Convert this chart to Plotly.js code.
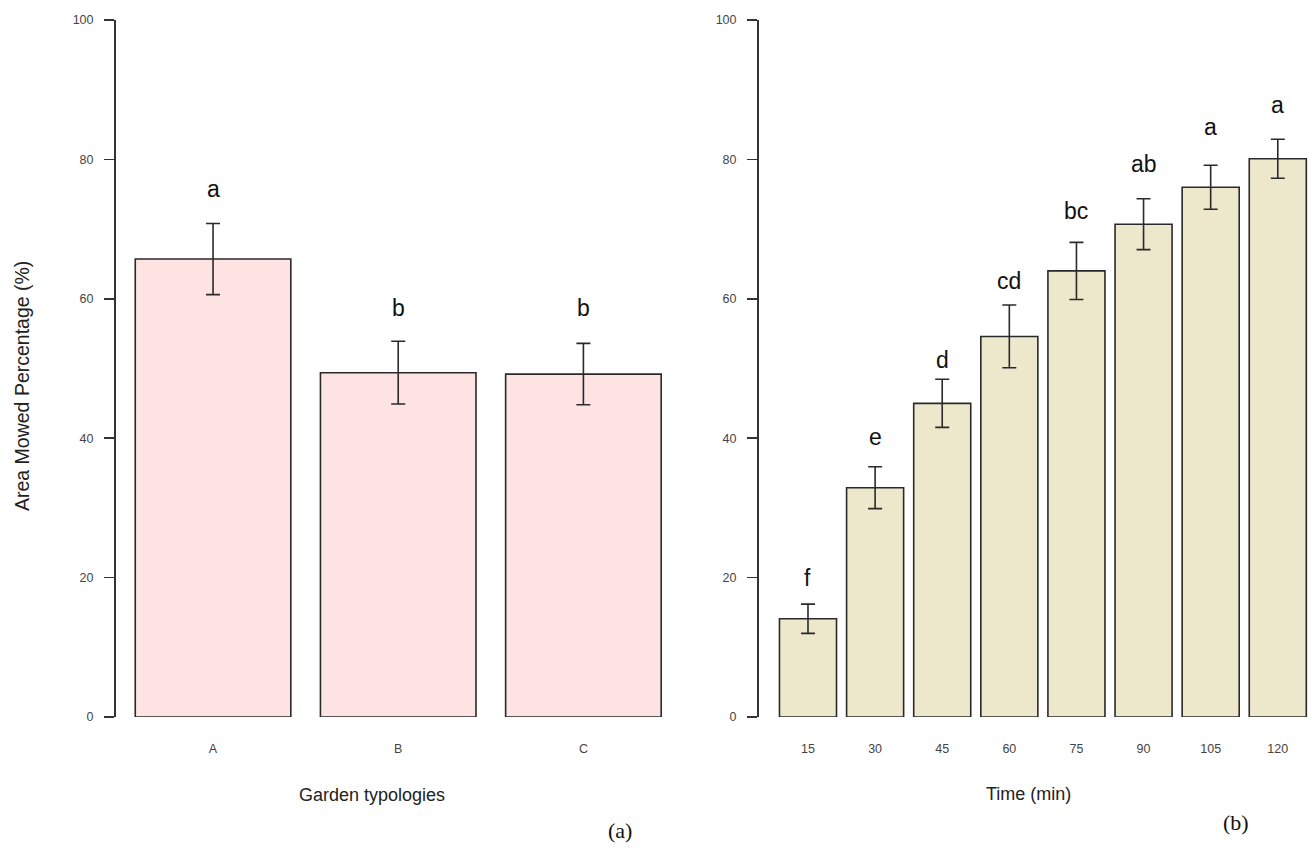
<!DOCTYPE html>
<html>
<head>
<meta charset="utf-8">
<script src="https://cdn.plot.ly/plotly-3.0.1.min.js"></script>
<style>html,body{margin:0;padding:0;background:#fff;}#chart{width:1312px;height:854px;}</style>
</head>
<body>
<div id="chart"></div>
<script>
// ---- data ----
const gardenCats = ['A', 'B', 'C'];
const gardenMeans = [65.7, 49.4, 49.2];
const gardenSE = [5.1, 4.5, 4.4];
const gardenLetters = ['a', 'b', 'b'];
const gardenLetterY = [74.4, 57.4, 57.4];

const timeCats = ['15', '30', '45', '60', '75', '90', '105', '120'];
const timeMeans = [14.1, 32.9, 45.0, 54.6, 64.0, 70.7, 76.0, 80.1];
const timeSE = [2.1, 3.0, 3.45, 4.5, 4.1, 3.65, 3.15, 2.8];
const timeLetters = ['f', 'e', 'd', 'cd', 'bc', 'ab', 'a', 'a'];
const timeLetterY = [18.7, 38.9, 50.0, 61.3, 71.3, 78.1, 83.3, 86.5];

const yTicks = [0, 20, 40, 60, 80, 100];

// ---- figure ----
const W = 1312, H = 854;
const FONT = 'Liberation Sans, Arial, Helvetica, sans-serif';
const px = x => x / W;
const marginT = 20, marginB = 137;
const plotH = H - marginT - marginB;
const py = y => (H - marginB - y) / plotH;

const traces = [
  {
    type: 'bar', x: gardenCats, y: gardenMeans, xaxis: 'x', yaxis: 'y',
    width: 0.84,
    marker: {color: '#FDE3E1', line: {color: '#2a2a2a', width: 1.6}},
    error_y: {type: 'data', array: gardenSE, visible: true, color: '#2a2a2a', thickness: 1.6, width: 7},
    hoverinfo: 'x+y'
  },
  {
    type: 'bar', x: timeCats, y: timeMeans, xaxis: 'x2', yaxis: 'y2',
    width: 0.85,
    marker: {color: '#EDE7CC', line: {color: '#2a2a2a', width: 1.6}},
    error_y: {type: 'data', array: timeSE, visible: true, color: '#2a2a2a', thickness: 1.6, width: 7},
    hoverinfo: 'x+y'
  }
];

const yAxisBase = {
  range: [0, 100], tickvals: yTicks, showgrid: false, zeroline: false,
  showline: true, linecolor: '#333', linewidth: 2,
  ticks: 'outside', ticklen: 10, tickwidth: 1.6, tickcolor: '#333',
  ticklabelstandoff: 8,
  tickfont: {family: FONT, size: 12.5, color: '#444'},
  fixedrange: true
};
const xAxisBase = {
  type: 'category', showgrid: false, zeroline: false, showline: false,
  ticks: '', ticklabelstandoff: 22,
  tickfont: {family: FONT, size: 12.5, color: '#444'},
  fixedrange: true
};

const annotations = [];
// letters: category axes take the category index as annotation position
gardenCats.forEach((c, i) => annotations.push({
  xref: 'x', yref: 'y', x: i, y: gardenLetterY[i], text: gardenLetters[i],
  showarrow: false, yanchor: 'bottom', yshift: -6,
  font: {family: FONT, size: 23, color: '#111'}
}));
timeCats.forEach((c, i) => annotations.push({
  xref: 'x2', yref: 'y2', x: i, y: timeLetterY[i], text: timeLetters[i],
  showarrow: false, yanchor: 'bottom', yshift: -6,
  font: {family: FONT, size: 23, color: '#111'}
}));
// axis titles
annotations.push({
  xref: 'paper', yref: 'paper', x: px(22), y: py(386), text: 'Area Mowed Percentage (%)',
  textangle: -90, showarrow: false, xanchor: 'center', yanchor: 'middle',
  font: {family: FONT, size: 19.5, color: '#222'}
});
annotations.push({
  xref: 'paper', yref: 'paper', x: px(372), y: py(795), text: 'Garden typologies',
  showarrow: false, xanchor: 'center', yanchor: 'middle',
  font: {family: FONT, size: 18, color: '#222'}
});
annotations.push({
  xref: 'paper', yref: 'paper', x: px(1028), y: py(794), text: 'Time (min)',
  showarrow: false, xanchor: 'center', yanchor: 'middle',
  font: {family: FONT, size: 18, color: '#222'}
});
annotations.push({
  xref: 'paper', yref: 'paper', x: px(620), y: py(830), text: '(a)',
  showarrow: false, xanchor: 'center', yanchor: 'middle',
  font: {family: 'Liberation Serif, DejaVu Serif, serif', size: 22, color: '#111'}
});
annotations.push({
  xref: 'paper', yref: 'paper', x: px(1236), y: py(822), text: '(b)',
  showarrow: false, xanchor: 'center', yanchor: 'middle',
  font: {family: 'Liberation Serif, DejaVu Serif, serif', size: 22, color: '#111'}
});

const layout = {
  width: W, height: H,
  margin: {l: 0, r: 0, t: marginT, b: marginB},
  paper_bgcolor: '#fff', plot_bgcolor: '#fff',
  showlegend: false,
  bargap: 0,
  xaxis: Object.assign({}, xAxisBase, {domain: [px(116), px(676)], range: [-0.524, 2.5], anchor: 'y'}),
  yaxis: Object.assign({}, yAxisBase, {anchor: 'x'}),
  xaxis2: Object.assign({}, xAxisBase, {domain: [px(759), px(1310)], range: [-0.73, 7.48], anchor: 'y2'}),
  yaxis2: Object.assign({}, yAxisBase, {anchor: 'x2'}),
  annotations: annotations
};

Plotly.newPlot('chart', traces, layout, {displayModeBar: false, staticPlot: true});
</script>
</body>
</html>
